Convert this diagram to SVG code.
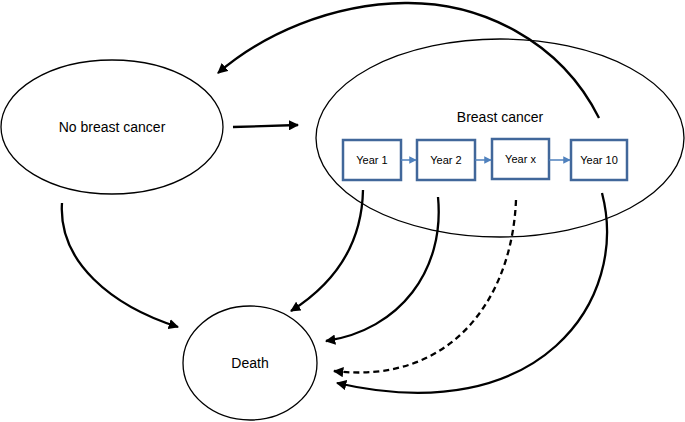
<svg xmlns="http://www.w3.org/2000/svg" width="685" height="422" viewBox="0 0 685 422">
<style>
.node{fill:#fff;stroke:#000;stroke-width:1.3}
.lbl{font-family:"Liberation Sans",Arial,sans-serif;font-size:14px;fill:#000;text-anchor:middle}
.box{fill:#fff;stroke:#41679a;stroke-width:2.5}
.ylbl{font-family:"Liberation Sans",Arial,sans-serif;font-size:11px;fill:#000;text-anchor:middle}
.c{fill:none;stroke:#000;stroke-width:2.3;marker-end:url(#ah)}
.d{stroke-dasharray:6,4}
.b{fill:none;stroke:#4f81bd;stroke-width:1.5;marker-end:url(#bh)}
</style>
<defs>
<marker id="ah" viewBox="0 0 10 10" refX="9" refY="5" markerWidth="4.5" markerHeight="4.5" orient="auto" markerUnits="strokeWidth">
<path d="M0,0 L10,5 L0,10 z" fill="#000"/>
</marker>
<marker id="bh" viewBox="0 0 10 10" refX="9" refY="5" markerWidth="5" markerHeight="5" orient="auto" markerUnits="strokeWidth">
<path d="M0,0 L10,5 L0,10 z" fill="#4f81bd"/>
</marker>
</defs>
<g id="no-breast-cancer">
<ellipse class="node" cx="112" cy="127" rx="111" ry="67"/>
<text class="lbl" x="112" y="132">No breast cancer</text>
</g>
<g id="breast-cancer">
<ellipse class="node" cx="500" cy="138" rx="184" ry="99"/>
<text class="lbl" x="500" y="122">Breast cancer</text>
</g>
<g id="death">
<ellipse class="node" cx="250" cy="363" rx="67" ry="57"/>
<text class="lbl" x="250" y="368">Death</text>
</g>
<g id="year1">
<rect class="box" x="343" y="140" width="58" height="40"/>
<text class="ylbl" x="372" y="164">Year 1</text>
</g>
<g id="year2">
<rect class="box" x="417" y="140" width="58" height="40"/>
<text class="ylbl" x="446" y="164">Year 2</text>
</g>
<g id="yearx">
<rect class="box" x="492" y="139" width="57" height="40"/>
<text class="ylbl" x="520.5" y="163">Year x</text>
</g>
<g id="year10">
<rect class="box" x="571" y="140" width="56" height="40"/>
<text class="ylbl" x="599" y="164">Year 10</text>
</g>
<g id="connectors">
<path class="b" d="M401,160 L416,160"/>
<path class="b" d="M475,160 L491,160"/>
<path class="b" d="M549,160 L570,160"/>
<path class="c" d="M233,127 L298,125"/>
<path class="c" d="M599,118 C560,40 480,2 405,3 C330,4 262,35 218,73"/>
<path class="c" d="M62,203 C58,262 112,306 178,327"/>
<path class="c" d="M363,190 C362,240 340,280 291,311"/>
<path class="c" d="M438,197 C445,270 400,330 326,341"/>
<path class="c d" d="M516,200 C512,300 450,385 334,371"/>
<path class="c" d="M602,193 C630,300 540,430 337,383"/>
</g>
</svg>
